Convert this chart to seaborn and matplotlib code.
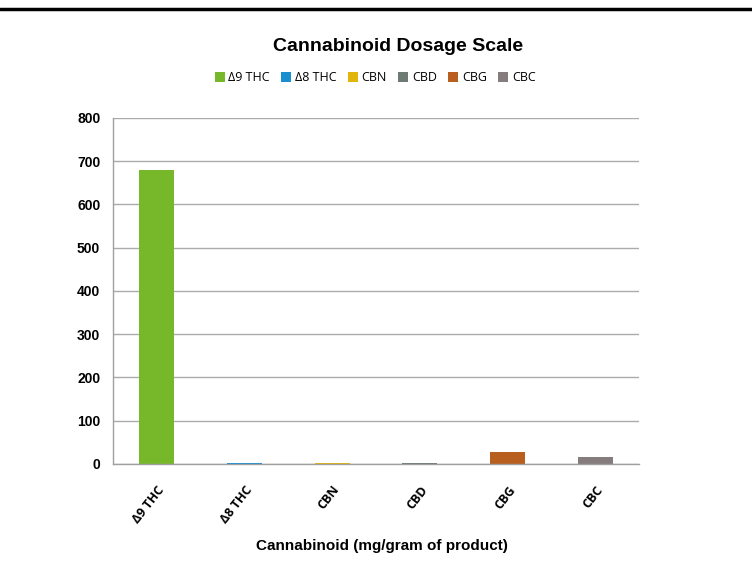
import pandas as pd
import seaborn as sns
import matplotlib.pyplot as plt
from matplotlib.lines import Line2D
from matplotlib.patches import Patch

categories = ['Δ9 THC', 'Δ8 THC', 'CBN', 'CBD', 'CBG', 'CBC']
values = [680, 2, 1.5, 1.5, 27, 15.5]
colors = ['#77B82A', '#1A8FD0', '#E0B50C', '#6E7B74', '#B85E1E', '#857D7D']
y_ticks = [0, 100, 200, 300, 400, 500, 600, 700, 800]

df = pd.DataFrame({'cannabinoid': categories, 'mg': values})

sns.set_style('white')
plt.rcParams['font.family'] = ['Liberation Sans', 'DejaVu Sans']
plt.rcParams['text.color'] = 'black'
plt.rcParams['xtick.color'] = 'black'
plt.rcParams['ytick.color'] = 'black'
plt.rcParams['axes.labelcolor'] = 'black'

fig = plt.figure(figsize=(7.52, 5.61), dpi=100)
ax = fig.add_axes([0.150, 0.173, 0.700, 0.617])

sns.barplot(data=df, x='cannabinoid', y='mg', hue='cannabinoid',
            palette=colors, order=categories, hue_order=categories,
            dodge=False, width=0.4, legend=False, saturation=1,
            linewidth=0, ax=ax)

ax.set_ylim(0, 800)
ax.set_xlim(-0.5, len(categories) - 0.5)
ax.set_yticks(y_ticks)
ax.set_yticklabels([str(t) for t in y_ticks], fontsize=10, fontweight='bold')
ax.yaxis.grid(True, color='#ababab', linewidth=1)
ax.set_axisbelow(True)

ax.set_xticks(range(len(categories)))
ax.set_xticklabels(categories, rotation=52, ha='right', rotation_mode='anchor',
                   fontsize=9, fontweight='bold', family=['Open Sans', 'DejaVu Sans'])
ax.tick_params(axis='x', length=0, pad=14)
ax.set_xticks([i - 0.5 for i in range(len(categories) + 1)], minor=True)
ax.tick_params(axis='x', which='minor', length=6, color='#a0a0a0', width=1)
ax.tick_params(axis='y', length=5, color='#a0a0a0', width=1, pad=4, labelcolor='black')

for side in ['top', 'right']:
    ax.spines[side].set_visible(False)
for side in ['left', 'bottom']:
    ax.spines[side].set_color('#a0a0a0')
    ax.spines[side].set_linewidth(1)

ax.set_ylabel('')
ax.set_xlabel('Cannabinoid (mg/gram of product)', fontsize=11, fontweight='bold')
ax.xaxis.set_label_coords(0.512, -0.218)

fig.text(0.53, 0.918, 'Cannabinoid Dosage Scale', ha='center', va='center',
         fontsize=14, fontweight='bold')

handles = [Patch(facecolor=c, edgecolor='none', label=l) for c, l in zip(colors, categories)]
fig.legend(handles=handles, loc='center', bbox_to_anchor=(0.499, 0.861), ncol=6,
           frameon=False, handlelength=0.8, handleheight=0.8,
           handletextpad=0.3, columnspacing=0.9,
           prop={'family': ['Open Sans', 'DejaVu Sans'], 'size': 9})

fig.add_artist(Line2D([0, 1], [1 - 8.5 / 561] * 2, color='black', linewidth=2.5,
                      transform=fig.transFigure))

fig.savefig('out.png', dpi=100)
